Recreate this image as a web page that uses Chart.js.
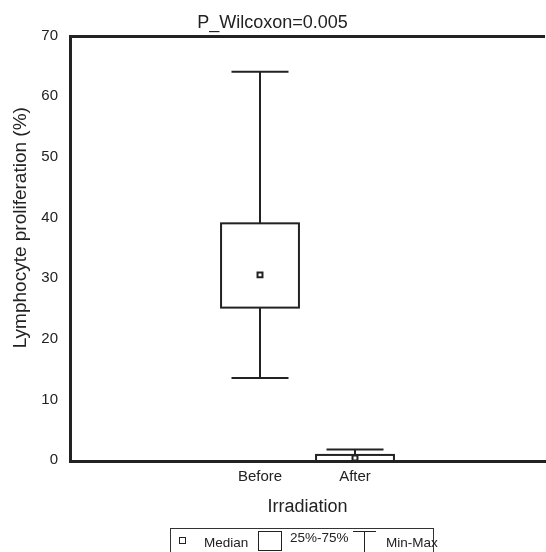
<!DOCTYPE html>
<html>
<head>
<meta charset="utf-8">
<script src="https://cdn.jsdelivr.net/npm/chart.js@4/dist/chart.umd.min.js"></script>
<style>
  body { margin: 0; background: #fff; font-family: "Liberation Sans", Arial, sans-serif; }
  #wrap { position: relative; width: 546px; height: 552px; overflow: hidden; }
  #legend { position: absolute; left: 170px; top: 528px; width: 262px; height: 30px;
            border: 1px solid #333; font-size: 13.5px; color: #222; white-space: nowrap; }
  #legend div, #legend span { position: absolute; line-height: 1; }
</style>
</head>
<body>
<div id="wrap">
  <canvas id="myChart" width="546" height="552"></canvas>
  <div id="legend">
    <div style="left:8px;top:8px;width:5px;height:5px;border:1.5px solid #222;"></div>
    <span style="left:33px;top:7px;">Median</span>
    <div style="left:87px;top:2px;width:22px;height:18px;border:1px solid #222;"></div>
    <span style="left:119px;top:2px;">25%-75%</span>
    <div style="left:182px;top:2px;width:23px;height:0;border-top:1.5px solid #222;"></div>
    <div style="left:193px;top:2px;width:0;height:24px;border-left:1.5px solid #222;"></div>
    <span style="left:215px;top:7px;">Min-Max</span>
  </div>
</div>
<script>
// data
const categories = ["Before", "After"];
const catPositions = [1, 2];
const minValues = [13.7, 0];
const q1Values = [25.3, 0];
const medianValues = [30.7, 0.5];
const q3Values = [39.2, 1.0];
const maxValues = [64.2, 1.9];
const yTicks = [0, 10, 20, 30, 40, 50, 60, 70];

const boxHalf = 0.41;
const capHalf = 0.3;

// draws boxes and whiskers through the chart scales
const boxPlot = {
  id: "boxPlot",
  beforeDatasetsDraw(chart) {
    const c = chart.ctx;
    const x = chart.scales.x, y = chart.scales.y;
    c.save();
    c.strokeStyle = "#222";
    c.lineWidth = 2;
    for (let i = 0; i < categories.length; i++) {
      const p = catPositions[i];
      const xl = x.getPixelForValue(p - boxHalf), xr = x.getPixelForValue(p + boxHalf);
      const xc = x.getPixelForValue(p);
      const cl = x.getPixelForValue(p - capHalf), cr = x.getPixelForValue(p + capHalf);
      const yMin = y.getPixelForValue(minValues[i]);
      const yQ1 = y.getPixelForValue(q1Values[i]);
      const yQ3 = y.getPixelForValue(q3Values[i]);
      const yMax = y.getPixelForValue(maxValues[i]);
      c.beginPath();
      c.moveTo(xc, yQ3); c.lineTo(xc, yMax);
      c.moveTo(cl, yMax); c.lineTo(cr, yMax);
      c.moveTo(xc, yQ1); c.lineTo(xc, yMin);
      c.moveTo(cl, yMin); c.lineTo(cr, yMin);
      c.stroke();
      c.strokeRect(xl, yQ3, xr - xl, yQ1 - yQ3);
    }
    // top frame line
    const a = chart.chartArea;
    c.lineWidth = 3;
    c.beginPath();
    c.moveTo(a.left, a.top); c.lineTo(a.right, a.top);
    c.stroke();
    c.restore();
  }
};

let ctx = document.getElementById("myChart").getContext("2d");
let chart = new Chart(ctx, {
  type: "scatter",
  data: {
    datasets: [
      {
        label: "Median",
        data: catPositions.map((p, i) => ({ x: p, y: medianValues[i] })),
        pointStyle: "rect",
        pointRadius: 3.5,
        pointBorderWidth: 2,
        pointBorderColor: "#222",
        pointBackgroundColor: "#fff",
        clip: false,
      }
    ],
  },
  options: {
    responsive: false,
    animation: false,
    layout: { autoPadding: false, padding: { left: 0, right: 1, top: 0, bottom: 31 } },
    plugins: {
      legend: { display: false },
      tooltip: { enabled: false },
      title: {
        display: true,
        text: "P_Wilcoxon=0.005",
        color: "#222",
        font: { family: "Liberation Sans", size: 18, weight: "normal" },
        padding: { top: 12, bottom: 3 },
      },
    },
    scales: {
      x: {
        type: "linear",
        min: -1,
        max: 4,
        afterFit: (s) => { s.height = 60; s.paddingLeft = 0; s.paddingRight = 0; },
        grid: { display: false, drawTicks: false },
        border: { display: true, width: 3, color: "#222" },
        afterBuildTicks: (s) => { s.ticks = catPositions.map(v => ({ value: v })); },
        ticks: {
          autoSkip: false,
          padding: 7,
          color: "#222",
          font: { family: "Liberation Sans", size: 15 },
          callback: (v) => categories[catPositions.indexOf(v)] || "",
        },
        title: {
          display: true,
          text: "Irradiation",
          color: "#222",
          font: { family: "Liberation Sans", size: 18 },
          padding: { top: 0, bottom: 3 },
        },
      },
      y: {
        min: 0,
        max: 70,
        afterFit: (s) => { s.width = 70; s.paddingLeft = 0; s.paddingRight = 0; },
        grid: { display: false, drawTicks: false },
        border: { display: true, width: 3, color: "#222" },
        afterBuildTicks: (s) => { s.ticks = yTicks.map(v => ({ value: v })); },
        ticks: {
          padding: 12,
          labelOffset: -1,
          color: "#222",
          font: { family: "Liberation Sans", size: 15 },
        },
        title: {
          display: true,
          text: "        Lymphocyte proliferation (%)",
          color: "#222",
          font: { family: "Liberation Sans", size: 19 },
          padding: { top: 9, bottom: 0 },
        },
      },
    },
  },
  plugins: [boxPlot],
});
</script>
</body>
</html>
